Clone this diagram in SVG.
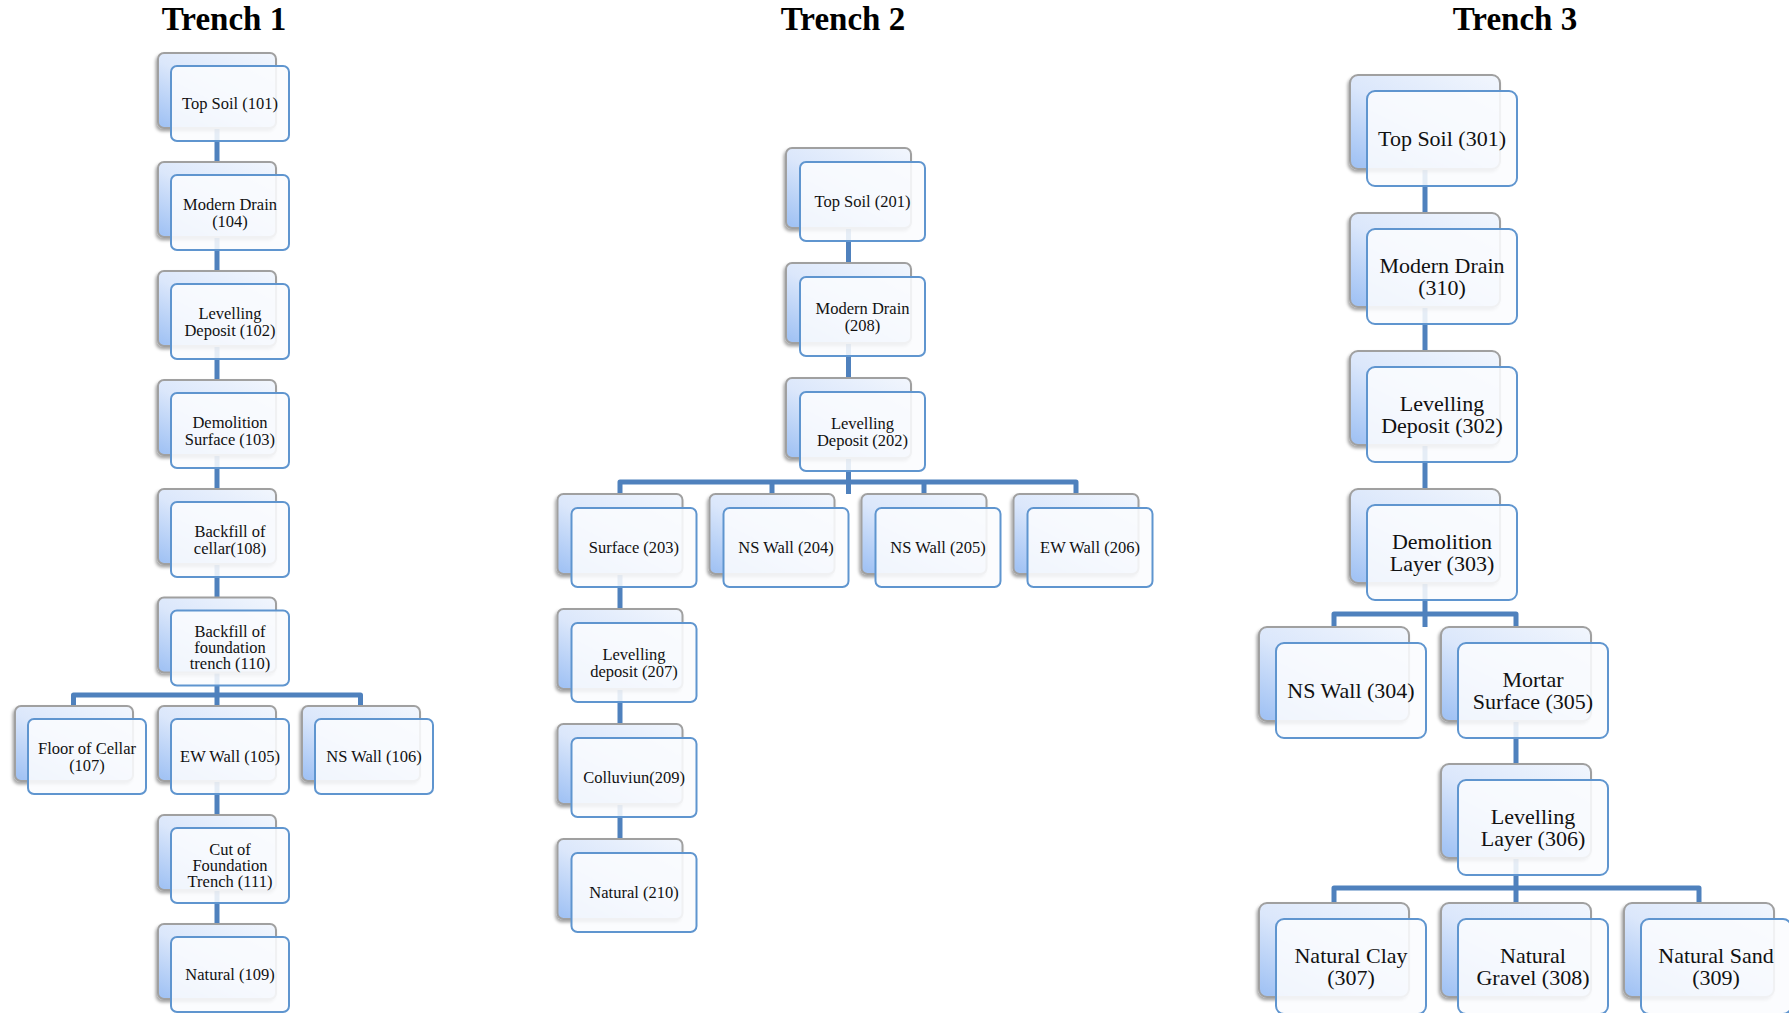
<svg xmlns="http://www.w3.org/2000/svg" width="1789" height="1013" viewBox="0 0 1789 1013">
<defs>
<linearGradient id="bg" x1="0.9" y1="0" x2="0.1" y2="1">
<stop offset="0" stop-color="#f0f5fd"/>
<stop offset="0.5" stop-color="#dbe7fb"/>
<stop offset="1" stop-color="#a2c3f4"/>
</linearGradient>
<filter id="sh" x="-20%" y="-20%" width="140%" height="140%">
<feDropShadow dx="-1.5" dy="2.5" stdDeviation="1.5" flood-color="#000" flood-opacity="0.35"/>
</filter>
<style>
.back{fill:url(#bg);stroke:#a0a0a0;stroke-width:2;filter:url(#sh)}
.front{fill:#fbfcfe;fill-opacity:0.88;stroke:#5f95cf;stroke-width:2}
.conn{fill:none;stroke:#4f81bd;stroke-width:5;stroke-linejoin:round}
.title{font-family:"Liberation Serif",serif;font-weight:bold;font-size:33px;fill:#000;text-anchor:middle}
.s{font-family:"Liberation Serif",serif;font-size:16.5px;fill:#111;text-anchor:middle}
.l{font-family:"Liberation Serif",serif;font-size:22px;fill:#111;text-anchor:middle}
</style>
</defs>
<rect width="1789" height="1013" fill="#fff"/>

<text class="title" x="224" y="30">Trench 1</text>
<text class="title" x="843" y="30">Trench 2</text>
<text class="title" x="1515" y="30">Trench 3</text>

<g id="connectors">
<path class="conn" d="M217,128V162M217,237V271M217,346V380M217,455V489M217,564V597.5M217,672.5V706M73.5,706V695H360.5V706M217,781V815M217,890V924"/>
<path class="conn" d="M848.5,228V263M848.5,343V378M848.5,458V494M620,494V482H1076V494M772,482V494M924,482V494M620,574V609M620,689V724M620,804V839"/>
<path class="conn" d="M1425,169V213M1425,307V351M1425,445V489M1425,583V627M1334,627V614H1516V627M1516,721V764M1516,858V903M1334,903V888H1699V903"/>
</g>

<!-- Trench 1 -->
<g id="n101"><rect class="back" x="158" y="53" width="118" height="75" rx="6"/><rect class="front" x="171" y="66" width="118" height="75" rx="6"/><text class="s" x="230" y="109.3">Top Soil (101)</text></g>
<g id="n104"><rect class="back" x="158" y="162" width="118" height="75" rx="6"/><rect class="front" x="171" y="175" width="118" height="75" rx="6"/><text class="s" x="230" y="210">Modern Drain<tspan x="230" dy="16.5">(104)</tspan></text></g>
<g id="n102"><rect class="back" x="158" y="271" width="118" height="75" rx="6"/><rect class="front" x="171" y="284" width="118" height="75" rx="6"/><text class="s" x="230" y="319">Levelling<tspan x="230" dy="16.5">Deposit (102)</tspan></text></g>
<g id="n103"><rect class="back" x="158" y="380" width="118" height="75" rx="6"/><rect class="front" x="171" y="393" width="118" height="75" rx="6"/><text class="s" x="230" y="428">Demolition<tspan x="230" dy="16.5">Surface (103)</tspan></text></g>
<g id="n108"><rect class="back" x="158" y="489" width="118" height="75" rx="6"/><rect class="front" x="171" y="502" width="118" height="75" rx="6"/><text class="s" x="230" y="537">Backfill of<tspan x="230" dy="16.5">cellar(108)</tspan></text></g>
<g id="n110"><rect class="back" x="158" y="597.5" width="118" height="75" rx="6"/><rect class="front" x="171" y="610.5" width="118" height="75" rx="6"/><text class="s" x="230" y="637">Backfill of<tspan x="230" dy="16">foundation</tspan><tspan x="230" dy="16">trench (110)</tspan></text></g>
<g id="n107"><rect class="back" x="15" y="706" width="118" height="75" rx="6"/><rect class="front" x="28" y="719" width="118" height="75" rx="6"/><text class="s" x="87" y="754">Floor of Cellar<tspan x="87" dy="16.5">(107)</tspan></text></g>
<g id="n105"><rect class="back" x="158" y="706" width="118" height="75" rx="6"/><rect class="front" x="171" y="719" width="118" height="75" rx="6"/><text class="s" x="230" y="762.3">EW Wall (105)</text></g>
<g id="n106"><rect class="back" x="302" y="706" width="118" height="75" rx="6"/><rect class="front" x="315" y="719" width="118" height="75" rx="6"/><text class="s" x="374" y="762.3">NS Wall (106)</text></g>
<g id="n111"><rect class="back" x="158" y="815" width="118" height="75" rx="6"/><rect class="front" x="171" y="828" width="118" height="75" rx="6"/><text class="s" x="230" y="854.5">Cut of<tspan x="230" dy="16">Foundation</tspan><tspan x="230" dy="16">Trench (111)</tspan></text></g>
<g id="n109"><rect class="back" x="158" y="924" width="118" height="75" rx="6"/><rect class="front" x="171" y="937" width="118" height="75" rx="6"/><text class="s" x="230" y="980.3">Natural (109)</text></g>

<!-- Trench 2 -->
<g id="n201"><rect class="back" x="786" y="148" width="125" height="80" rx="6"/><rect class="front" x="800" y="162" width="125" height="79" rx="6"/><text class="s" x="862.5" y="207.3">Top Soil (201)</text></g>
<g id="n208"><rect class="back" x="786" y="263" width="125" height="80" rx="6"/><rect class="front" x="800" y="277" width="125" height="79" rx="6"/><text class="s" x="862.5" y="314">Modern Drain<tspan x="862.5" dy="16.5">(208)</tspan></text></g>
<g id="n202"><rect class="back" x="786" y="378" width="125" height="80" rx="6"/><rect class="front" x="800" y="392" width="125" height="79" rx="6"/><text class="s" x="862.5" y="429">Levelling<tspan x="862.5" dy="16.5">Deposit (202)</tspan></text></g>
<g id="n203"><rect class="back" x="557.5" y="494" width="125" height="80" rx="6"/><rect class="front" x="571.5" y="508" width="125" height="79" rx="6"/><text class="s" x="634" y="553.3">Surface (203)</text></g>
<g id="n204"><rect class="back" x="709.5" y="494" width="125" height="80" rx="6"/><rect class="front" x="723.5" y="508" width="125" height="79" rx="6"/><text class="s" x="786" y="553.3">NS Wall (204)</text></g>
<g id="n205"><rect class="back" x="861.5" y="494" width="125" height="80" rx="6"/><rect class="front" x="875.5" y="508" width="125" height="79" rx="6"/><text class="s" x="938" y="553.3">NS Wall (205)</text></g>
<g id="n206"><rect class="back" x="1013.5" y="494" width="125" height="80" rx="6"/><rect class="front" x="1027.5" y="508" width="125" height="79" rx="6"/><text class="s" x="1090" y="553.3">EW Wall (206)</text></g>
<g id="n207"><rect class="back" x="557.5" y="609" width="125" height="80" rx="6"/><rect class="front" x="571.5" y="623" width="125" height="79" rx="6"/><text class="s" x="634" y="660">Levelling<tspan x="634" dy="16.5">deposit (207)</tspan></text></g>
<g id="n209"><rect class="back" x="557.5" y="724" width="125" height="80" rx="6"/><rect class="front" x="571.5" y="738" width="125" height="79" rx="6"/><text class="s" x="634" y="783.3">Colluviun(209)</text></g>
<g id="n210"><rect class="back" x="557.5" y="839" width="125" height="80" rx="6"/><rect class="front" x="571.5" y="853" width="125" height="79" rx="6"/><text class="s" x="634" y="898.3">Natural (210)</text></g>

<!-- Trench 3 -->
<g id="n301"><rect class="back" x="1350" y="75" width="150" height="94" rx="8"/><rect class="front" x="1367" y="91" width="150" height="95" rx="8"/><text class="l" x="1442" y="146.2">Top Soil (301)</text></g>
<g id="n310"><rect class="back" x="1350" y="213" width="150" height="94" rx="8"/><rect class="front" x="1367" y="229" width="150" height="95" rx="8"/><text class="l" x="1442" y="273.2">Modern Drain<tspan x="1442" dy="22">(310)</tspan></text></g>
<g id="n302"><rect class="back" x="1350" y="351" width="150" height="94" rx="8"/><rect class="front" x="1367" y="367" width="150" height="95" rx="8"/><text class="l" x="1442" y="411.2">Levelling<tspan x="1442" dy="22">Deposit (302)</tspan></text></g>
<g id="n303"><rect class="back" x="1350" y="489" width="150" height="94" rx="8"/><rect class="front" x="1367" y="505" width="150" height="95" rx="8"/><text class="l" x="1442" y="549.2">Demolition<tspan x="1442" dy="22">Layer (303)</tspan></text></g>
<g id="n304"><rect class="back" x="1259" y="627" width="150" height="94" rx="8"/><rect class="front" x="1276" y="643" width="150" height="95" rx="8"/><text class="l" x="1351" y="698.2">NS Wall (304)</text></g>
<g id="n305"><rect class="back" x="1441" y="627" width="150" height="94" rx="8"/><rect class="front" x="1458" y="643" width="150" height="95" rx="8"/><text class="l" x="1533" y="687.2">Mortar<tspan x="1533" dy="22">Surface (305)</tspan></text></g>
<g id="n306"><rect class="back" x="1441" y="764" width="150" height="94" rx="8"/><rect class="front" x="1458" y="780" width="150" height="95" rx="8"/><text class="l" x="1533" y="824.2">Levelling<tspan x="1533" dy="22">Layer (306)</tspan></text></g>
<g id="n307"><rect class="back" x="1259" y="903" width="150" height="94" rx="8"/><rect class="front" x="1276" y="919" width="150" height="95" rx="8"/><text class="l" x="1351" y="963.2">Natural Clay<tspan x="1351" dy="22">(307)</tspan></text></g>
<g id="n308"><rect class="back" x="1441" y="903" width="150" height="94" rx="8"/><rect class="front" x="1458" y="919" width="150" height="95" rx="8"/><text class="l" x="1533" y="963.2">Natural<tspan x="1533" dy="22">Gravel (308)</tspan></text></g>
<g id="n309"><rect class="back" x="1624" y="903" width="150" height="94" rx="8"/><rect class="front" x="1641" y="919" width="150" height="95" rx="8"/><text class="l" x="1716" y="963.2">Natural Sand<tspan x="1716" dy="22">(309)</tspan></text></g>
</svg>
